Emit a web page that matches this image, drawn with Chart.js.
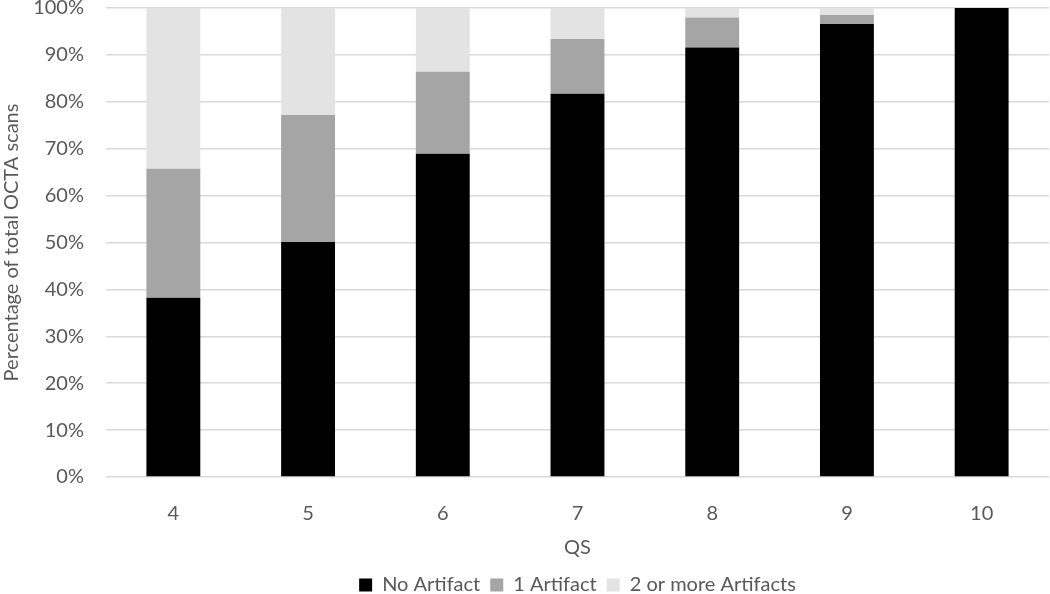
<!DOCTYPE html>
<html>
<head>
<meta charset="utf-8">
<script src="https://cdn.jsdelivr.net/npm/chart.js@4.4.1/dist/chart.umd.min.js"></script>
<style>
  html, body { margin: 0; padding: 0; background: #fff; }
  #wrap { width: 1050px; height: 594px; }
</style>
</head>
<body>
<div id="wrap"><canvas id="qsChart"></canvas></div>
<script>
const categories = ['4', '5', '6', '7', '8', '9', '10'];
const noArtifact = [38.2, 50.1, 68.9, 81.7, 91.6, 96.6, 100];
const oneArtifact = [27.5, 27.1, 17.5, 11.7, 6.4, 1.9, 0];
const twoOrMore = [34.3, 22.8, 13.6, 6.6, 2.0, 1.5, 0];

const textColor = '#595959';
const fontFamily = "Lato, 'Liberation Sans', sans-serif";

function series(label, data, color) {
    return {
        label: label,
        data: data,
        backgroundColor: color,
        borderWidth: 0,
        barPercentage: 0.4,
        categoryPercentage: 1.0
    };
}

new Chart(document.getElementById('qsChart'), {
    type: 'bar',
    data: {
        labels: categories,
        datasets: [
            series('No Artifact', noArtifact, '#000000'),
            series('1 Artifact', oneArtifact, '#a5a5a5'),
            series('2 or more Artifacts', twoOrMore, '#e3e3e3')
        ]
    },
    options: {
        responsive: true,
        maintainAspectRatio: false,
        animation: false,
        layout: { padding: { top: 0, right: 1, bottom: -11, left: 0 } },
        plugins: {
            tooltip: { enabled: false },
            legend: {
                position: 'bottom',
                fullSize: false,
                labels: {
                    color: textColor,
                    font: { family: fontFamily, size: 20, lineHeight: 1 },
                    boxWidth: 13,
                    boxHeight: 13,
                    padding: 10
                }
            }
        },
        scales: {
            x: {
                stacked: true,
                grid: { display: false },
                border: { display: false },
                ticks: { color: textColor, font: { family: fontFamily, size: 20 }, padding: 17 },
                title: {
                    display: true,
                    text: 'QS',
                    color: textColor,
                    font: { family: fontFamily, size: 20 },
                    padding: { top: 0, bottom: 5 }
                },
                afterFit: scale => { scale.height = 88; }
            },
            y: {
                stacked: true,
                min: 0,
                max: 100,
                grid: { color: '#d9d9d9', lineWidth: 1.5, drawTicks: false },
                border: { display: false },
                ticks: {
                    stepSize: 10,
                    color: textColor,
                    font: { family: fontFamily, size: 20 },
                    padding: 22,
                    callback: v => v + '%'
                },
                title: {
                    display: true,
                    text: 'Percentage of total OCTA scans',
                    color: textColor,
                    font: { family: fontFamily, size: 20 },
                    padding: { top: 0, bottom: 0 }
                },
                afterFit: scale => {
                    scale.width = 106;
                    scale.paddingTop = 8;
                    scale.paddingBottom = 0;
                }
            }
        }
    }
});
</script>
</body>
</html>
